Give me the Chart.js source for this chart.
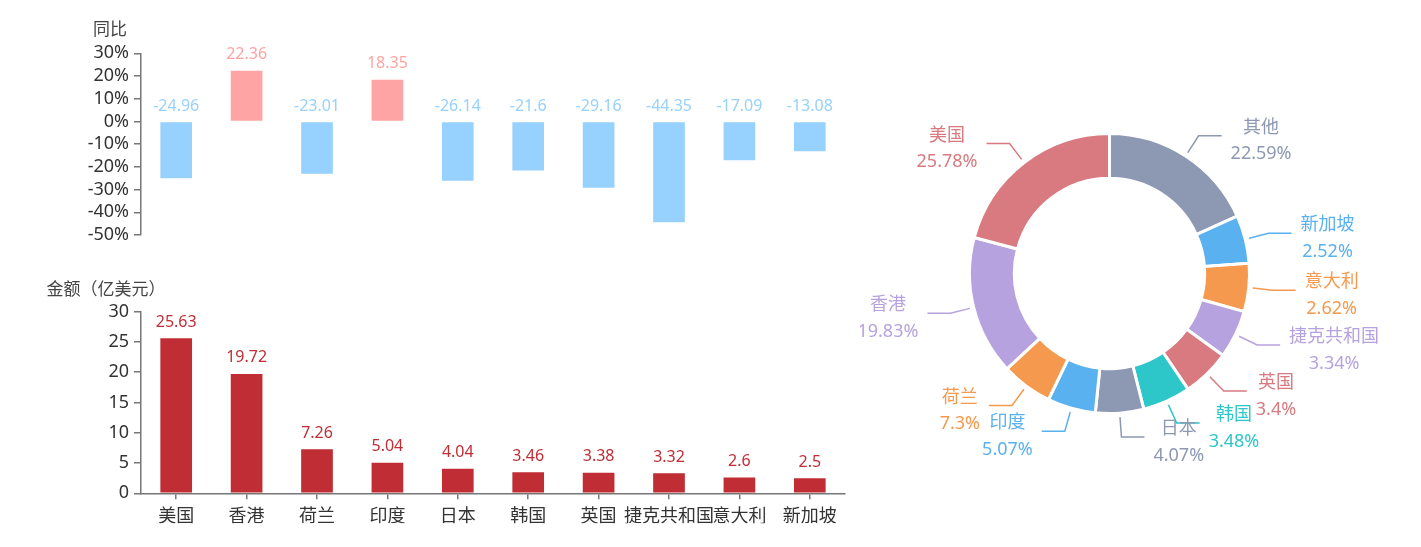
<!DOCTYPE html>
<html lang="zh-CN">
<head>
    <meta charset="UTF-8">
    <title>对外投资：金额、同比与占比</title>
    <script src="https://cdn.jsdelivr.net/npm/chart.js"></script>
    <style>
        html, body {
            margin: 0;
            padding: 0;
            background: #fff;
        }
        body {
            width: 1421px;
            height: 547px;
            position: relative;
            overflow: hidden;
        }
        .box {
            position: absolute;
        }
        #yoyBox { left: 0; top: 0; width: 870px; height: 260px; }
        #amtBox { left: 0; top: 260px; width: 870px; height: 287px; }
        #pieBox { left: 860px; top: 0; width: 561px; height: 547px; }
    </style>
</head>
<body>
    <div class="box" id="yoyBox"><canvas id="yoyChart"></canvas></div>
    <div class="box" id="amtBox"><canvas id="amtChart"></canvas></div>
    <div class="box" id="pieBox"><canvas id="pieChart"></canvas></div>

    <script>
        // categories shared by both bar charts
        const countries = ['美国', '香港', '荷兰', '印度', '日本', '韩国', '英国', '捷克共和国', '意大利', '新加坡'];
        // 同比 (%)
        const yoyValues = [-24.96, 22.36, -23.01, 18.35, -26.14, -21.6, -29.16, -44.35, -17.09, -13.08];
        // 金额（亿美元）
        const amountValues = [25.63, 19.72, 7.26, 5.04, 4.04, 3.46, 3.38, 3.32, 2.6, 2.5];

        // donut: share (%), clockwise from 12 o'clock
        const shareLabels = ['其他', '新加坡', '意大利', '捷克共和国', '英国', '韩国', '日本', '印度', '荷兰', '香港', '美国'];
        const shareValues = [22.59, 2.52, 2.62, 3.34, 3.4, 3.48, 4.07, 5.07, 7.3, 19.83, 25.78];
        const shareColors = ['#8d98b3', '#5ab1ef', '#f5994e', '#b6a2de', '#d87a80', '#2ec7c9',
                             '#8d98b3', '#5ab1ef', '#f5994e', '#b6a2de', '#d87a80'];

        const FONT = '"Noto Sans", "Noto Sans CJK SC", sans-serif';
        const AXIS_COLOR = '#777';
        const TEXT_COLOR = '#333';

        // value labels above each bar (above the zero line for negative bars)
        const barValueLabels = {
            id: 'barValueLabels',
            afterDatasetsDraw(chart) {
                const ctx = chart.ctx;
                chart.data.datasets.forEach((ds, i) => {
                    chart.getDatasetMeta(i).data.forEach((bar, j) => {
                        const top = Math.min(bar.y, bar.base);
                        ctx.save();
                        ctx.font = '16px ' + FONT;
                        ctx.fillStyle = bar.options.backgroundColor;
                        ctx.textAlign = 'center';
                        ctx.textBaseline = 'middle';
                        ctx.fillText(String(ds.data[j]), bar.x, top - 16);
                        ctx.restore();
                    });
                });
            }
        };

        // axis name drawn above the y axis
        const axisName = {
            id: 'axisName',
            afterDraw(chart, args, opts) {
                const ctx = chart.ctx;
                const y = chart.scales.y;
                ctx.save();
                ctx.font = '17px ' + FONT;
                ctx.fillStyle = '#444';
                ctx.textAlign = 'center';
                ctx.textBaseline = 'middle';
                ctx.fillText(opts.text, y.right + opts.dx, chart.chartArea.top + opts.dy);
                ctx.restore();
            }
        };

        function yAxis(min, max, step, fmt) {
            return {
                min: min,
                max: max,
                afterFit: scale => { scale.width = 141; },
                border: { display: true, color: AXIS_COLOR, width: 1.5 },
                grid: { drawOnChartArea: false, drawTicks: true, tickLength: 7, color: AXIS_COLOR, lineWidth: 1.5 },
                ticks: {
                    stepSize: step,
                    autoSkip: false,
                    padding: 5,
                    color: TEXT_COLOR,
                    font: { size: 18, family: FONT },
                    callback: fmt
                }
            };
        }

        new Chart(document.getElementById('yoyChart'), {
            type: 'bar',
            data: {
                labels: countries,
                datasets: [{
                    data: yoyValues,
                    backgroundColor: c => c.raw >= 0 ? '#ffa4a4' : '#97d1fd',
                    barPercentage: 0.45,
                    categoryPercentage: 1
                }]
            },
            options: {
                responsive: true,
                maintainAspectRatio: false,
                animation: false,
                layout: { padding: { left: 0, right: 25, top: 53.3, bottom: 25 } },
                plugins: {
                    legend: { display: false },
                    tooltip: { enabled: false },
                    axisName: { text: '同比', dx: -31, dy: -23 }
                },
                scales: {
                    x: { display: false },
                    y: yAxis(-50, 30, 10, v => v + '%')
                }
            },
            plugins: [barValueLabels, axisName]
        });

        new Chart(document.getElementById('amtChart'), {
            type: 'bar',
            data: {
                labels: countries,
                datasets: [{
                    data: amountValues,
                    backgroundColor: '#c12d35',
                    barPercentage: 0.45,
                    categoryPercentage: 1
                }]
            },
            options: {
                responsive: true,
                maintainAspectRatio: false,
                animation: false,
                layout: { padding: { left: 0, right: 25, top: 51.7, bottom: 23.7 } },
                plugins: {
                    legend: { display: false },
                    tooltip: { enabled: false },
                    axisName: { text: '金额（亿美元）', dx: -35, dy: -21.7 }
                },
                scales: {
                    x: {
                        afterFit: scale => { scale.height = 30; },
                        border: { display: true, color: AXIS_COLOR, width: 1.5 },
                        grid: { offset: false, drawOnChartArea: false, drawTicks: true, tickLength: 6, color: AXIS_COLOR, lineWidth: 1.5 },
                        ticks: {
                            autoSkip: false,
                            maxRotation: 0,
                            padding: 7,
                            color: TEXT_COLOR,
                            font: { size: 18, family: FONT }
                        }
                    },
                    y: yAxis(0, 30, 5, v => v)
                }
            },
            plugins: [barValueLabels, axisName]
        });

        // doughnut whose small slices get a minimum angle (like echarts minAngle)
        class MinAngleDoughnut extends Chart.DoughnutController {
            calculateCircumference(value) {
                const meta = this._cachedMeta;
                const total = meta.total;
                if (!(total > 0) || isNaN(value)) return 0;
                const TAU = Math.PI * 2;
                const minAngle = (this.getDataset().minAngle || 0) * Math.PI / 180;
                let rest = TAU, bigSum = 0;
                meta._parsed.forEach(v => {
                    if (TAU * v / total < minAngle) rest -= minAngle;
                    else bigSum += v;
                });
                return TAU * value / total < minAngle ? minAngle : value * rest / bigSum;
            }
        }
        MinAngleDoughnut.id = 'minAngleDoughnut';
        Chart.register(MinAngleDoughnut);

        // outside labels with two-segment leader lines
        const pieOutsideLabels = {
            id: 'pieOutsideLabels',
            afterDatasetsDraw(chart) {
                const ctx = chart.ctx;
                const ds = chart.data.datasets[0];
                chart.getDatasetMeta(0).data.forEach((arc, i) => {
                    const p = arc.getProps(['x', 'y', 'startAngle', 'endAngle', 'outerRadius'], true);
                    const mid = (p.startAngle + p.endAngle) / 2;
                    const cos = Math.cos(mid), sin = Math.sin(mid);
                    const side = cos >= 0 ? 1 : -1;
                    const r0 = p.outerRadius + 4, r1 = p.outerRadius + 24;
                    const x0 = p.x + cos * r0, y0 = p.y + sin * r0;
                    const x1 = p.x + cos * r1, y1 = p.y + sin * r1;
                    const x2 = x1 + side * 23;
                    const color = arc.options.backgroundColor;

                    ctx.save();
                    ctx.strokeStyle = color;
                    ctx.lineWidth = 1.5;
                    ctx.beginPath();
                    ctx.moveTo(x0, y0);
                    ctx.lineTo(x1, y1);
                    ctx.lineTo(x2, y1);
                    ctx.stroke();

                    const name = chart.data.labels[i];
                    const pct = ds.data[i] + '%';
                    ctx.font = '18px ' + FONT;
                    const w = Math.max(ctx.measureText(name).width, ctx.measureText(pct).width);
                    const cx = x2 + side * (9 + w / 2);
                    ctx.fillStyle = color;
                    ctx.textAlign = 'center';
                    ctx.textBaseline = 'middle';
                    ctx.fillText(name, cx, y1 - 8);
                    ctx.fillText(pct, cx, y1 + 18.5);
                    ctx.restore();
                });
            }
        };

        new Chart(document.getElementById('pieChart'), {
            type: 'minAngleDoughnut',
            data: {
                labels: shareLabels,
                datasets: [{
                    data: shareValues,
                    minAngle: 20,
                    backgroundColor: shareColors,
                    borderColor: '#fff',
                    borderWidth: 3
                }]
            },
            options: {
                responsive: true,
                maintainAspectRatio: false,
                animation: false,
                cutout: '68%',
                layout: { padding: { left: 108, right: 170, top: 132, bottom: 132 } },
                plugins: {
                    legend: { display: false },
                    tooltip: { enabled: false }
                }
            },
            plugins: [pieOutsideLabels]
        });
    </script>
</body>
</html>
